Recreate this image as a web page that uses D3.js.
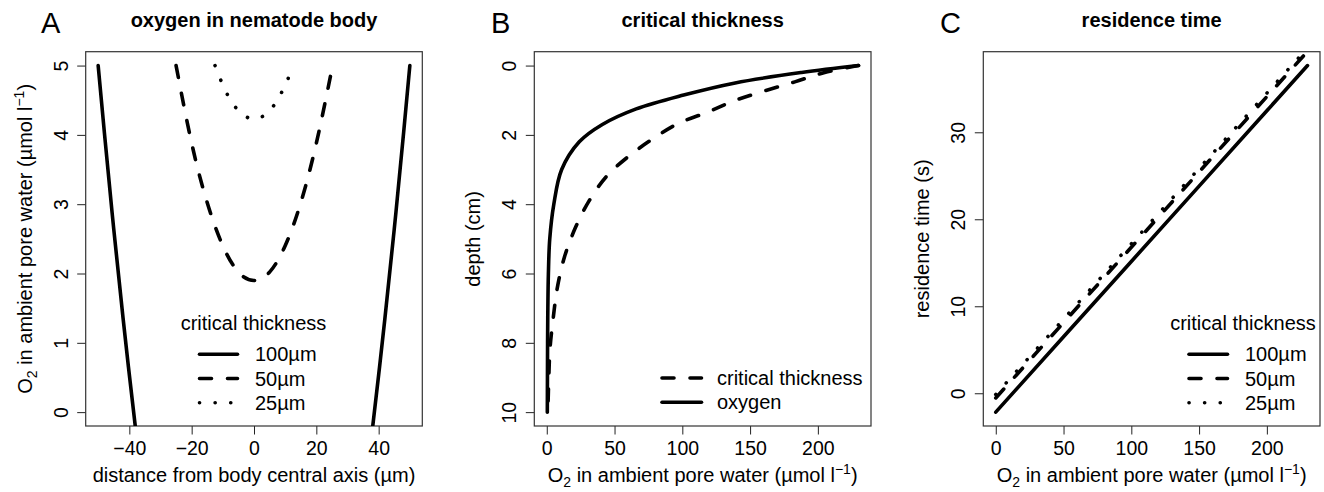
<!DOCTYPE html>
<html>
<head>
<meta charset="utf-8">
<script src="https://cdn.jsdelivr.net/npm/d3@7"></script>
<style>
  body { margin: 0; background: #fff; }
  text { font-family: "Liberation Sans", Arial, Helvetica, sans-serif; fill: #000; }
</style>
</head>
<body>
<div id="chart"></div>
<script>
var width = 1324;
var height = 492;

// panel A: oxygen in nematode body (distance um, O2 umol/l)
var aSolidLeftX = [-50, -48, -45, -42, -40, -38];
var aSolidLeftY = [5, 4.03, 2.64, 1.35, 0.54, -0.24];
var aSolidRightX = [38, 40, 42, 45, 48, 50];
var aSolidRightY = [-0.24, 0.54, 1.35, 2.64, 4.03, 5];
var aDashX = [-25, -20, -15, -10, -5, 0, 5, 10, 15, 20, 25];
var aDashY = [5, 3.88, 3.02, 2.40, 2.02, 1.90, 2.02, 2.40, 3.02, 3.88, 4.95];
var aDotX = [-12.5, -10, -7.5, -5, -2.5, 0, 2.5, 5, 7.5, 10, 12.5];
var aDotY = [5, 4.72, 4.50, 4.35, 4.26, 4.23, 4.26, 4.35, 4.50, 4.72, 4.97];
var aXTicks = [-40, -20, 0, 20, 40];
var aYTicks = [0, 1, 2, 3, 4, 5];

// panel B: critical thickness (depth cm vs O2)
var bOxyDepth = [0, 0.2, 0.5, 0.85, 1.25, 1.7, 2.2, 3, 4, 5, 6, 7, 8, 9, 10];
var bOxyO2 = [230, 188, 139, 101, 66, 41, 24, 11, 5.2, 2.2, 1.2, 0.8, 0.6, 0.5, 0.4];
var bCritDepth = [0, 0.2, 0.47, 0.74, 1.02, 1.34, 1.67, 2.12, 2.63, 3.2, 3.92, 4.69, 5.53, 6.45, 7.24, 8.16, 9, 10];
var bCritO2 = [230, 205, 183, 160, 138, 119, 97, 78, 60, 44, 31, 21, 13, 7.6, 4.9, 2.4, 1.5, 0.8];
var bXTicks = [0, 50, 100, 150, 200];
var bYTicks = [0, 2, 4, 6, 8, 10];

// panel C: residence time (s) vs O2
var cO2 = [0, 50, 100, 150, 200, 230];
var c100 = [-2.17, 6.49, 15.15, 23.81, 32.47, 37.67];
var c50 = [-0.54, 8.12, 16.78, 25.44, 34.10, 39.30];
var c25 = [-0.14, 8.52, 17.18, 25.84, 34.50, 39.70];
var cXTicks = [0, 50, 100, 150, 200];
var cYTicks = [0, 10, 20, 30];

var thickLabels = ["100\u00b5m", "50\u00b5m", "25\u00b5m"];

var dashes = { solid: null, dash: "12,16", dot: "0.1,15.5" };
var lineW = 3.6;
var plotTop = 51.7, plotBottom = 426;
var fmt = d3.format("d");

var svg = d3.select("#chart").append("svg")
    .attr("width", width)
    .attr("height", height);

function pad(ext) {
    var r = ext[1] - ext[0];
    return [ext[0] - 0.04 * r, ext[1] + 0.04 * r];
}

function zip(xs, ys) {
    return xs.map(function(x, i) { return [x, ys[i]]; });
}

// O2 label with sub/superscripts
function o2Label(t) {
    t.append("tspan").text("O");
    t.append("tspan").text("2").attr("font-size", 14).attr("dy", 5);
    t.append("tspan").text(" in ambient pore water (\u00b5mol l").attr("dy", -5);
    t.append("tspan").text("\u22121").attr("font-size", 14).attr("dy", -8);
    t.append("tspan").text(")").attr("dy", 8);
}

function makePanel(p) {
    var g = svg.append("g");
    var x = d3.scaleLinear().domain(p.xDom).range([p.left, p.right]);
    var y = d3.scaleLinear().domain(p.yDom).range(p.yRev ? [plotTop, plotBottom] : [plotBottom, plotTop]);

    g.append("clipPath").attr("id", "clip" + p.id)
        .append("rect")
        .attr("x", p.left).attr("y", plotTop)
        .attr("width", p.right - p.left).attr("height", plotBottom - plotTop);

    var xa = g.append("g")
        .attr("transform", "translate(0," + plotBottom + ")")
        .call(d3.axisBottom(x).tickValues(p.xTicks).tickFormat(fmt).tickSize(8.5).tickSizeOuter(0));
    xa.select(".domain").remove();
    xa.selectAll("text").attr("y", 29).attr("dy", 0)
        .attr("font-size", 19.5).attr("font-family", null);
    xa.selectAll("line").attr("stroke", "#222");

    var ya = g.append("g")
        .attr("transform", "translate(" + p.left + ",0)")
        .call(d3.axisLeft(y).tickValues(p.yTicks).tickFormat(fmt).tickSize(8.5).tickSizeOuter(0));
    ya.select(".domain").remove();
    ya.selectAll("text")
        .attr("transform", "rotate(-90)")
        .attr("x", 0).attr("y", -18).attr("dy", 0)
        .attr("text-anchor", "middle")
        .attr("font-size", 19.5).attr("font-family", null);
    ya.selectAll("line").attr("stroke", "#222");

    g.append("rect")
        .attr("x", p.left).attr("y", plotTop)
        .attr("width", p.right - p.left).attr("height", plotBottom - plotTop)
        .attr("fill", "none").attr("stroke", "#333").attr("stroke-width", 1.2);

    var line = d3.line()
        .x(function(d) { return x(d[0]); })
        .y(function(d) { return y(d[1]); })
        .curve(p.curve);

    var plot = g.append("g").attr("clip-path", "url(#clip" + p.id + ")");
    p.series.forEach(function(s) {
        plot.append("path")
            .datum(s.pts)
            .attr("d", line)
            .attr("fill", "none")
            .attr("stroke", "#000")
            .attr("stroke-width", lineW)
            .attr("stroke-linecap", "round")
            .attr("stroke-linejoin", "round")
            .attr("stroke-dasharray", dashes[s.style]);
    });

    var cx = (p.left + p.right) / 2;
    g.append("text").attr("x", cx).attr("y", 27)
        .attr("text-anchor", "middle").attr("font-size", 20).attr("font-weight", "bold")
        .text(p.title);
    g.append("text").attr("x", p.letterX).attr("y", 33)
        .attr("font-size", 29).text(p.id);

    var xl = g.append("text").attr("x", cx).attr("y", 482)
        .attr("text-anchor", "middle").attr("font-size", 20);
    if (p.xLabel) xl.text(p.xLabel); else o2Label(xl);

    var yl = g.append("text")
        .attr("transform", "translate(" + (p.left - 54) + "," + ((plotTop + plotBottom) / 2) + ") rotate(-90)")
        .attr("text-anchor", "middle").attr("font-size", 20);
    if (p.yLabel) yl.text(p.yLabel); else o2Label(yl);

    // legend
    var lg = g.append("g");
    if (p.legend.title) {
        lg.append("text").attr("x", p.legend.titleX).attr("y", 330)
            .attr("text-anchor", "middle").attr("font-size", 20).text(p.legend.title);
    }
    p.legend.items.forEach(function(it, i) {
        var yy = p.legend.y0 + i * 24.2;
        lg.append("line")
            .attr("x1", p.legend.x0).attr("x2", p.legend.x1)
            .attr("y1", yy).attr("y2", yy)
            .attr("stroke", "#000").attr("stroke-width", lineW)
            .attr("stroke-linecap", "round")
            .attr("stroke-dasharray", dashes[it.style]);
        lg.append("text").attr("x", p.legend.tx).attr("y", yy + 7)
            .attr("font-size", 20).text(it.label);
    });
}

makePanel({
    id: "A", left: 85.7, right: 422.3, letterX: 41,
    xDom: pad([-50, 50]), yDom: pad([0, 5]), yRev: false,
    xTicks: aXTicks, yTicks: aYTicks, curve: d3.curveNatural,
    title: "oxygen in nematode body",
    xLabel: "distance from body central axis (\u00b5m)", yLabel: null,
    series: [
        { pts: zip(aSolidLeftX, aSolidLeftY), style: "solid" },
        { pts: zip(aSolidRightX, aSolidRightY), style: "solid" },
        { pts: zip(aDashX, aDashY), style: "dash" },
        { pts: zip(aDotX, aDotY), style: "dot" }
    ],
    legend: {
        title: "critical thickness", titleX: 253.5, x0: 199.5, x1: 237.5, tx: 255, y0: 354.3,
        items: [
            { label: thickLabels[0], style: "solid" },
            { label: thickLabels[1], style: "dash" },
            { label: thickLabels[2], style: "dot" }
        ]
    }
});

makePanel({
    id: "B", left: 534.3, right: 871, letterX: 491,
    xDom: pad([0, 230]), yDom: pad([0, 10]), yRev: true,
    xTicks: bXTicks, yTicks: bYTicks, curve: d3.curveCatmullRom.alpha(0.5),
    title: "critical thickness",
    xLabel: null, yLabel: "depth (cm)",
    series: [
        { pts: zip(bCritO2, bCritDepth), style: "dash" },
        { pts: zip(bOxyO2, bOxyDepth), style: "solid" }
    ],
    legend: {
        title: null, x0: 662, x1: 701.5, tx: 717, y0: 378,
        items: [
            { label: "critical thickness", style: "dash" },
            { label: "oxygen", style: "solid" }
        ]
    }
});

makePanel({
    id: "C", left: 983.3, right: 1320, letterX: 940,
    xDom: pad([0, 230]), yDom: pad([-2.17, 37.67]), yRev: false,
    xTicks: cXTicks, yTicks: cYTicks, curve: d3.curveLinear,
    title: "residence time",
    xLabel: null, yLabel: "residence time (s)",
    series: [
        { pts: zip(cO2, c100), style: "solid" },
        { pts: zip(cO2, c50), style: "dash" },
        { pts: zip(cO2, c25), style: "dot" }
    ],
    legend: {
        title: "critical thickness", titleX: 1243, x0: 1189, x1: 1227.5, tx: 1245, y0: 354.3,
        items: [
            { label: thickLabels[0], style: "solid" },
            { label: thickLabels[1], style: "dash" },
            { label: thickLabels[2], style: "dot" }
        ]
    }
});
</script>
</body>
</html>
